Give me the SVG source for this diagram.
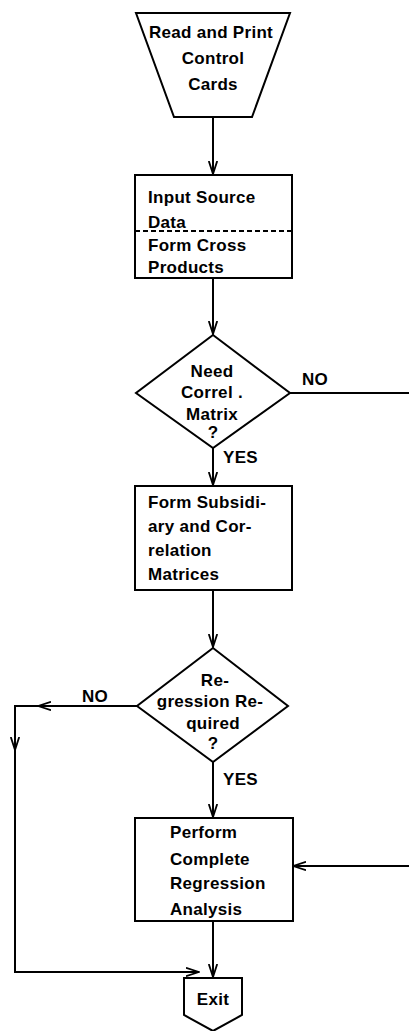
<svg xmlns="http://www.w3.org/2000/svg" width="409" height="1031" viewBox="0 0 409 1031">
  <defs>
    <marker id="arrow" viewBox="0 0 14 10" refX="13" refY="5" markerWidth="14" markerHeight="10" markerUnits="userSpaceOnUse" orient="auto">
      <path d="M0,0.8 L13,5 L0,9.2" fill="none" stroke="#000" stroke-width="1.8"/>
    </marker>
    <style>
      .shape { fill: #fff; stroke: #000; stroke-width: 2; }
      .line { fill: none; stroke: #000; stroke-width: 2; }
      .dash { fill: none; stroke: #000; stroke-width: 1.8; stroke-dasharray: 5 3; }
      text { font-family: "Liberation Sans", Arial, sans-serif; font-weight: bold; font-size: 17px; letter-spacing: 0.3px; fill: #000; }
      .c { text-anchor: middle; }
    </style>
  </defs>

  <rect width="409" height="1031" fill="#fff"/>

  <!-- connectors -->
  <g id="connectors">
    <line class="line" x1="213" y1="117" x2="213" y2="174" marker-end="url(#arrow)"/>
    <line class="line" x1="213" y1="278" x2="213" y2="334" marker-end="url(#arrow)"/>
    <line class="line" x1="213" y1="448" x2="213" y2="485" marker-end="url(#arrow)"/>
    <line class="line" x1="213" y1="590" x2="213" y2="647" marker-end="url(#arrow)"/>
    <line class="line" x1="213" y1="762" x2="213" y2="817" marker-end="url(#arrow)"/>
    <line class="line" x1="213" y1="921" x2="213" y2="977" marker-end="url(#arrow)"/>
    <!-- NO branch from first decision, leaves the page to the right -->
    <line class="line" x1="290" y1="393" x2="409" y2="393"/>
    <!-- return path entering the regression box -->
    <line class="line" x1="409" y1="866" x2="293" y2="866" marker-end="url(#arrow)"/>
    <!-- NO branch from second decision down to exit -->
    <line class="line" x1="137" y1="706" x2="38" y2="706" marker-end="url(#arrow)"/>
    <polyline class="line" points="38,706 15,706 15,972 199,972" marker-end="url(#arrow)"/>
    <line class="line" x1="15" y1="730" x2="15" y2="750" marker-end="url(#arrow)"/>
    <text x="302" y="385">NO</text>
    <text x="223" y="463">YES</text>
    <text x="82" y="702">NO</text>
    <text x="223" y="785">YES</text>
  </g>

  <g id="read-control-cards">
    <polygon class="shape" points="136,13 290,13 252,117 174,117"/>
    <text class="c" x="211" y="38">Read and Print</text>
    <text class="c" x="213" y="64">Control</text>
    <text class="c" x="213" y="90">Cards</text>
  </g>

  <g id="input-source">
    <rect class="shape" x="135" y="175" width="157" height="103"/>
    <line class="dash" x1="135" y1="231" x2="292" y2="231"/>
    <text x="148" y="203">Input Source</text>
    <text x="148" y="228">Data</text>
    <text x="148" y="251">Form Cross</text>
    <text x="148" y="273">Products</text>
  </g>

  <g id="need-correl">
    <polygon class="shape" points="213,335 290,393 213,448 136,393"/>
    <text class="c" x="212" y="377">Need</text>
    <text class="c" x="212" y="398">Correl .</text>
    <text class="c" x="212" y="420">Matrix</text>
    <text class="c" x="213" y="438">?</text>
  </g>

  <g id="form-matrices">
    <rect class="shape" x="135" y="486" width="157" height="104"/>
    <text x="148" y="508">Form Subsidi-</text>
    <text x="148" y="532">ary and Cor-</text>
    <text x="148" y="556">relation</text>
    <text x="148" y="580">Matrices</text>
  </g>

  <g id="regression-required">
    <polygon class="shape" points="213,648 288,706 213,762 137,706"/>
    <text class="c" x="215" y="686">Re-</text>
    <text class="c" x="210" y="707">gression Re-</text>
    <text class="c" x="213" y="729">quired</text>
    <text class="c" x="213" y="749">?</text>
  </g>

  <g id="regression-analysis">
    <rect class="shape" x="135" y="818" width="158" height="103"/>
    <text x="170" y="838">Perform</text>
    <text x="170" y="865">Complete</text>
    <text x="170" y="889">Regression</text>
    <text x="170" y="915">Analysis</text>
  </g>

  <g id="exit">
    <polygon class="shape" points="184,978 242,978 242,1015 213,1031 184,1015"/>
    <text class="c" x="213" y="1005">Exit</text>
  </g>
</svg>
